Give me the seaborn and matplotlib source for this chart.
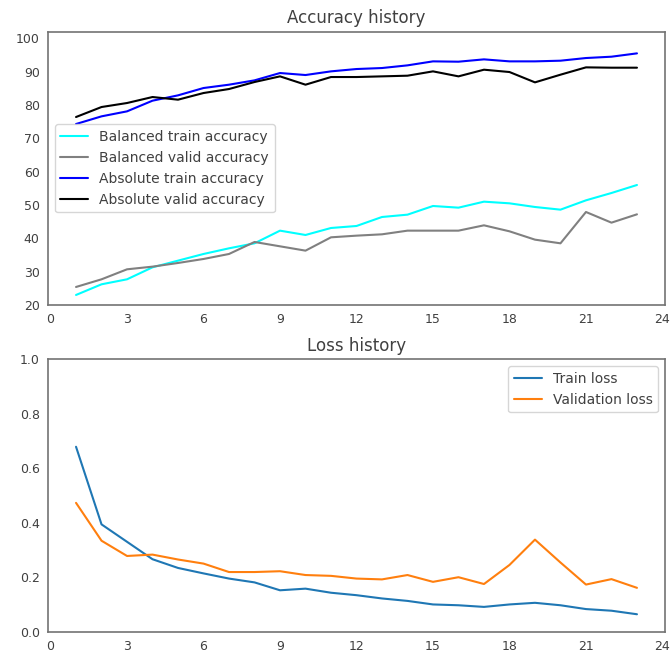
import matplotlib
matplotlib.use("Agg")
import matplotlib.pyplot as plt
import pandas as pd
import seaborn as sns

# Training history per epoch
epochs = list(range(1, 24))

bal_train_acc = [23.0, 26.2, 27.7, 31.3, 33.3, 35.3, 37.0, 38.5, 42.3, 41.0, 43.1, 43.7,
                 46.4, 47.1, 49.7, 49.2, 51.0, 50.5, 49.4, 48.6, 51.4, 53.6, 56.0]
bal_valid_acc = [25.4, 27.7, 30.7, 31.5, 32.6, 33.8, 35.3, 38.9, 37.6, 36.3, 40.3, 40.8,
                 41.2, 42.3, 42.3, 42.3, 43.9, 42.1, 39.6, 38.5, 47.9, 44.7, 47.2]
abs_train_acc = [74.3, 76.6, 78.1, 81.3, 82.9, 85.1, 86.1, 87.4, 89.6, 89.0, 90.1, 90.8,
                 91.1, 91.9, 93.1, 93.0, 93.7, 93.1, 93.1, 93.3, 94.1, 94.5, 95.5]
abs_valid_acc = [76.4, 79.4, 80.6, 82.4, 81.6, 83.6, 84.8, 86.9, 88.6, 86.1, 88.4, 88.4,
                 88.6, 88.8, 90.1, 88.6, 90.6, 89.9, 86.8, 89.1, 91.3, 91.2, 91.2]

train_loss = [0.679, 0.394, 0.330, 0.266, 0.234, 0.214, 0.195, 0.181, 0.152, 0.158, 0.143, 0.134,
              0.122, 0.113, 0.100, 0.097, 0.091, 0.100, 0.106, 0.097, 0.083, 0.077, 0.064]
valid_loss = [0.473, 0.334, 0.278, 0.283, 0.265, 0.250, 0.219, 0.219, 0.222, 0.208, 0.205, 0.195,
              0.192, 0.208, 0.183, 0.200, 0.175, 0.245, 0.338, 0.254, 0.173, 0.193, 0.161]

acc_series = [
    ("Balanced train accuracy", bal_train_acc, "cyan"),
    ("Balanced valid accuracy", bal_valid_acc, "gray"),
    ("Absolute train accuracy", abs_train_acc, "blue"),
    ("Absolute valid accuracy", abs_valid_acc, "black"),
]
loss_series = [
    ("Train loss", train_loss, "#1f77b4"),
    ("Validation loss", valid_loss, "#ff7f0e"),
]

sns.set_style("white")
plt.rcParams["font.family"] = ["DejaVu Sans"]
plt.rcParams["text.color"] = ".25"
plt.rcParams["axes.edgecolor"] = ".45"
plt.rcParams["axes.linewidth"] = 1.2
plt.rcParams["xtick.color"] = ".25"
plt.rcParams["ytick.color"] = ".25"

fig = plt.figure(figsize=(6.72, 6.55), dpi=100)
ax1 = fig.add_axes([0.0714, 0.5344, 0.9182, 0.4172])
ax2 = fig.add_axes([0.0714, 0.0356, 0.9182, 0.4158])


def draw(ax, series):
    for name, vals, color in series:
        df = pd.DataFrame({"epoch": epochs, "value": vals})
        sns.lineplot(data=df, x="epoch", y="value", ax=ax, color=color,
                     label=name, linewidth=1.5)
    ax.set_xlabel("")
    ax.set_ylabel("")
    ax.set_xticks(range(0, 25, 3))
    ax.tick_params(labelsize=9, pad=6, length=0)


draw(ax1, acc_series)
ax1.set_ylim(20, 102)
ax1.set_yticks(range(20, 101, 10))
ax1.set_title("Accuracy history", fontsize=12)
ax1.legend(loc="center left", fontsize=10, frameon=True, edgecolor="0.8")

draw(ax2, loss_series)
ax2.set_ylim(0, 1)
ax2.set_yticks([0.0, 0.2, 0.4, 0.6, 0.8, 1.0])
ax2.set_title("Loss history", fontsize=12)
ax2.legend(loc="upper right", fontsize=10, frameon=True, edgecolor="0.8")

fig.savefig("out.png", dpi=100)
